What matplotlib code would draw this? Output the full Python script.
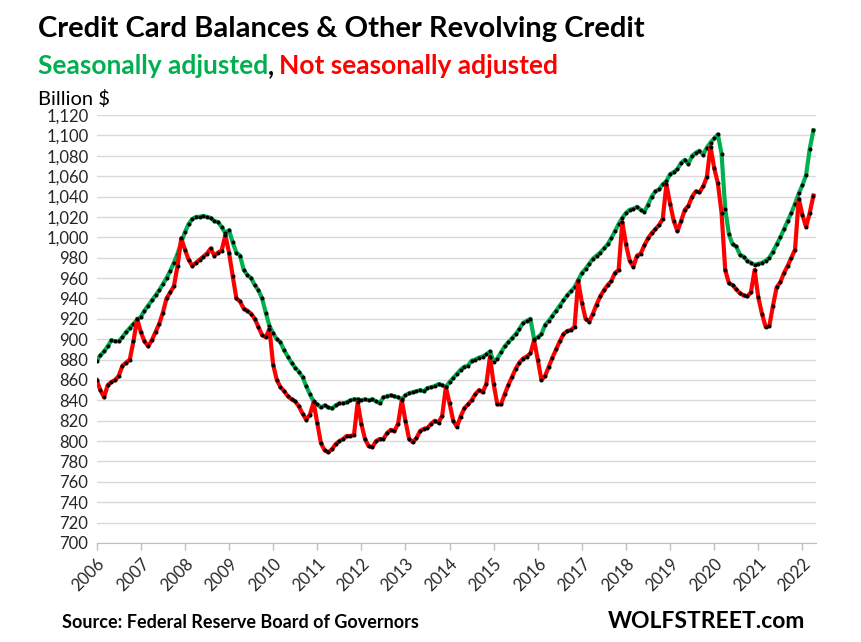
import numpy as np
import matplotlib
matplotlib.use("Agg")
import matplotlib.pyplot as plt

# monthly values, Jan 2006 .. Apr 2022, billion $
seasonally_adjusted = [
    879, 884, 888, 893, 899, 898, 898, 902, 907, 911, 915, 919,          # 2006
    922, 928, 933, 938, 943, 948, 954, 960, 967, 975, 984, 995,          # 2007
    1005, 1013, 1018, 1020, 1020, 1021, 1020, 1019, 1016, 1015, 1010, 1004,  # 2008
    1007, 995, 985, 982, 968, 963, 960, 953, 948, 940, 926, 913,         # 2009
    906, 900, 897, 889, 883, 877, 872, 868, 863, 854, 846, 839,          # 2010
    836, 833, 835, 833, 832, 835, 837, 837, 838, 840, 841, 841,          # 2011
    840, 841, 840, 841, 839, 837, 843, 844, 845, 844, 843, 841,          # 2012
    845, 847, 848, 849, 850, 849, 852, 853, 854, 856, 855, 853,          # 2013
    858, 862, 866, 870, 873, 874, 879, 880, 882, 883, 885, 888,          # 2014
    878, 881, 887, 893, 897, 901, 905, 910, 916, 918, 920, 900,          # 2015
    902, 905, 914, 918, 923, 928, 933, 938, 943, 947, 951, 958,          # 2016
    965, 969, 974, 979, 982, 985, 989, 993, 999, 1006, 1013, 1019,       # 2017
    1024, 1027, 1028, 1030, 1027, 1025, 1032, 1040, 1045, 1047, 1052, 1055,  # 2018
    1062, 1064, 1067, 1073, 1076, 1072, 1080, 1083, 1085, 1081, 1088, 1093,  # 2019
    1097, 1101, 1082, 1028, 1003, 993, 991, 983, 981, 977, 975, 973,     # 2020
    974, 975, 977, 980, 986, 993, 1000, 1008, 1016, 1024, 1033, 1043,    # 2021
    1051, 1061, 1087, 1105,                                              # 2022
]

not_seasonally_adjusted = [
    860, 850, 843, 855, 858, 860, 864, 874, 877, 880, 898, 920,          # 2006
    907, 898, 893, 899, 907, 915, 926, 940, 946, 952, 972, 999,          # 2007
    988, 978, 972, 975, 978, 981, 984, 989, 982, 985, 987, 1002,         # 2008
    985, 962, 940, 937, 930, 928, 925, 920, 912, 904, 902, 910,          # 2009
    875, 860, 853, 849, 844, 841, 839, 834, 827, 821, 826, 838,          # 2010
    818, 798, 791, 789, 792, 797, 800, 802, 805, 805, 806, 838,          # 2011
    817, 802, 795, 794, 800, 802, 802, 808, 811, 810, 817, 840,          # 2012
    820, 802, 799, 803, 810, 812, 813, 817, 820, 818, 825, 853,          # 2013
    837, 820, 814, 824, 832, 836, 840, 846, 850, 848, 856, 883,          # 2014
    856, 836, 836, 846, 855, 863, 871, 877, 881, 883, 886, 899,          # 2015
    880, 860, 864, 873, 882, 890, 898, 905, 908, 909, 912, 957,          # 2016
    936, 920, 917, 925, 934, 942, 948, 953, 957, 965, 968, 1015,         # 2017
    993, 977, 971, 982, 984, 992, 999, 1004, 1008, 1012, 1018, 1052,     # 2018
    1033, 1016, 1006, 1016, 1027, 1031, 1040, 1045, 1044, 1050, 1059, 1089,  # 2019
    1068, 1053, 1024, 968, 955, 953, 949, 945, 943, 942, 946, 968,       # 2020
    941, 925, 912, 913, 933, 951, 956, 965, 972, 980, 988, 1038,         # 2021
    1022, 1010, 1024, 1041,                                              # 2022
]

years = list(range(2006, 2023))
y_ticks = list(range(700, 1121, 20))

W, H = 862, 642
GREEN = "#00B050"
RED = "#FF0000"
FONT = "Lato"

plt.rcParams["font.family"] = [FONT, "DejaVu Sans"]

fig = plt.figure(figsize=(W / 100, H / 100), dpi=100)
fig.patch.set_facecolor("white")

# plot area in pixels: x 96.7..816, y 115..543
ax = fig.add_axes([96.7 / W, 1 - 543 / H, (816 - 96.7) / W, (543 - 115) / H])

x = 2006 + np.arange(len(seasonally_adjusted)) / 12.0

ax.plot(x, seasonally_adjusted, color=GREEN, lw=3, marker="o", ms=2.9,
        mfc="black", mec="black", mew=0, zorder=3)
ax.plot(x, not_seasonally_adjusted, color=RED, lw=3, marker="o", ms=2.9,
        mfc="black", mec="black", mew=0, zorder=4)

ax.set_xlim(2006, 2006 + 195.7 / 12)
ax.set_ylim(700, 1120)

ax.set_yticks(y_ticks)
ax.set_yticklabels([f"{v:,}" for v in y_ticks], fontsize=12, color="#262626")
ax.tick_params(axis="y", length=0, pad=6)

ax.set_xticks(years)
ax.set_xticklabels([str(y) for y in years], rotation=45, ha="right",
                   rotation_mode="anchor", fontsize=12, color="#262626")
ax.tick_params(axis="x", length=5, color="#BFBFBF", width=1, direction="out", pad=4)

ax.grid(axis="y", color="#D9D9D9", lw=1)
ax.set_axisbelow(True)
for side in ["left", "right", "top"]:
    ax.spines[side].set_visible(False)
ax.spines["bottom"].set_color("#BFBFBF")

# titles
fig.text(38 / W, 1 - 29 / H, "Credit Card Balances & Other Revolving Credit",
         fontsize=21, fontweight="bold", color="black", ha="left", va="center")

fig.canvas.draw()
renderer = fig.canvas.get_renderer()
sub_y = 1 - 66 / H
t1 = fig.text(38 / W, sub_y, "Seasonally adjusted", fontsize=19, fontweight="bold",
              color=GREEN, ha="left", va="center")
bb = t1.get_window_extent(renderer)
t2 = fig.text(bb.x1 / W, sub_y, ",", fontsize=19, fontweight="bold",
              color="black", ha="left", va="center")
bb = t2.get_window_extent(renderer)
fig.text((bb.x1 + 5) / W, sub_y, "Not seasonally adjusted", fontsize=19,
         fontweight="bold", color=RED, ha="left", va="center")

fig.text(38 / W, 1 - 99 / H, "Billion $", fontsize=14.5, color="black",
         ha="left", va="center")

fig.text(62 / W, 1 - 622 / H, "Source: Federal Reserve Board of Governors",
         fontsize=13, fontweight="bold", color="black", ha="left", va="center")
fig.text(805 / W, 1 - 622 / H, "WOLFSTREET.com", fontsize=16.5, fontweight="bold",
         color="black", ha="right", va="center")

fig.savefig("out.png", dpi=100)
